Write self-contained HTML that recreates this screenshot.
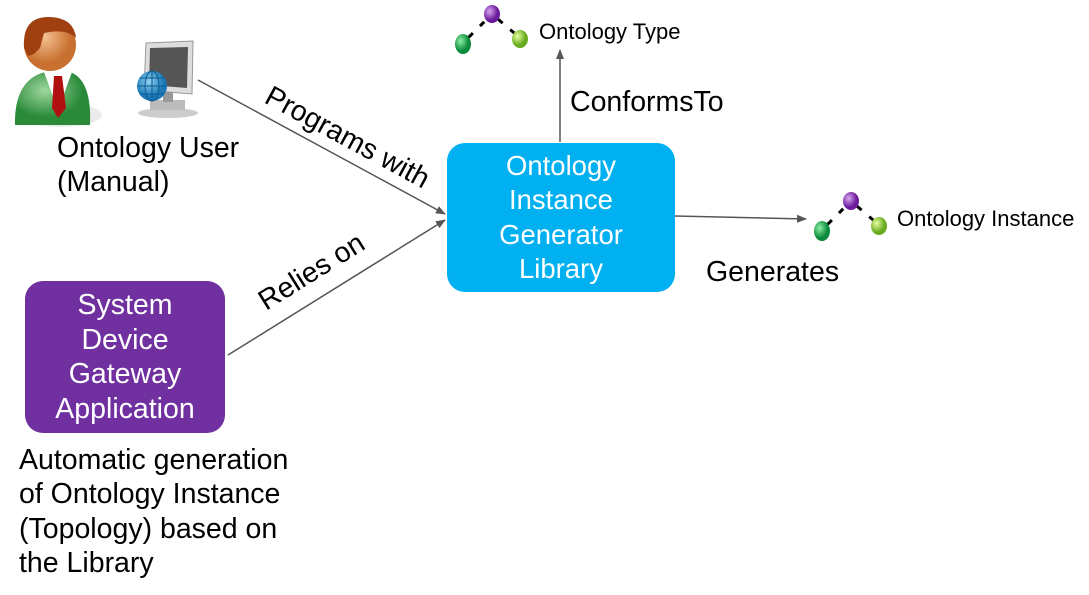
<!DOCTYPE html>
<html><head><style>
body{margin:0;background:#fff;width:1089px;height:595px;overflow:hidden;position:relative;font-family:"Liberation Sans",sans-serif;}
.t{position:absolute;color:#000;white-space:nowrap;}
.box{position:absolute;border-radius:18px;color:#fff;text-align:center;font-size:27.5px;line-height:34.5px;display:flex;align-items:center;justify-content:center;}
</style></head><body>
<svg width="1089" height="595" style="position:absolute;left:0;top:0">
<defs>
<marker id="a" markerWidth="10" markerHeight="10" refX="9" refY="5" orient="auto" markerUnits="userSpaceOnUse"><path d="M0,1 L10,5 L0,9 z" fill="#555"/></marker>
<radialGradient id="g1" cx="35%" cy="35%"><stop offset="0" stop-color="#8ef0a8"/><stop offset="1" stop-color="#0a8a3a"/></radialGradient>
<radialGradient id="g2" cx="35%" cy="35%"><stop offset="0" stop-color="#d8a8f0"/><stop offset="1" stop-color="#6a1a9a"/></radialGradient>
<radialGradient id="g3" cx="35%" cy="35%"><stop offset="0" stop-color="#e8ffa0"/><stop offset="1" stop-color="#6aaa20"/></radialGradient>
<radialGradient id="gs" cx="40%" cy="35%"><stop offset="0" stop-color="#f4c090"/><stop offset="1" stop-color="#c87030"/></radialGradient>
<radialGradient id="gb" cx="40%" cy="35%"><stop offset="0" stop-color="#9ed89e"/><stop offset="1" stop-color="#2a8a3a"/></radialGradient>
<radialGradient id="gw" cx="40%" cy="35%"><stop offset="0" stop-color="#8fd0f0"/><stop offset="1" stop-color="#1a78b8"/></radialGradient>
</defs>
<line x1="198" y1="80" x2="445" y2="214" stroke="#555" stroke-width="1.5" marker-end="url(#a)"/>
<line x1="228" y1="355" x2="445" y2="220" stroke="#555" stroke-width="1.5" marker-end="url(#a)"/>
<line x1="560" y1="142" x2="560" y2="50" stroke="#555" stroke-width="1.5" marker-end="url(#a)"/>
<line x1="675" y1="216" x2="806" y2="219" stroke="#555" stroke-width="1.5" marker-end="url(#a)"/>
<ellipse cx="60" cy="115" rx="42" ry="12" fill="#ddd" opacity=".6"/>
<path d="M15,125 Q14,80 45,72 L70,72 Q92,80 90,125 Z" fill="url(#gb)"/>
<path d="M44,72 L58,110 L72,72 Z" fill="#fff"/>
<path d="M54,76 L62,76 L66,108 L58,118 L52,108 Z" fill="#b01010"/>
<circle cx="50" cy="45" r="26" fill="url(#gs)"/>
<path d="M24,48 Q22,16 50,17 Q74,18 76,38 Q66,28 44,33 L40,48 L34,54 L28,56 Z" fill="#a04010"/>
<ellipse cx="168" cy="113" rx="30" ry="5" fill="#ccc"/>
<rect x="150" y="100" width="35" height="10" fill="#bbb"/>
<rect x="163" y="92" width="10" height="10" fill="#999"/>
<path d="M146,43 L193,41 L192,94 L144,90 Z" fill="#ddd" stroke="#999"/>
<path d="M150,48 L188,47 L187,88 L149,85 Z" fill="#555"/>
<circle cx="152" cy="86" r="15" fill="url(#gw)"/>
<path d="M137,86 H167 M152,71 V101 M140,78 H164 M140,94 H164" stroke="#0d5a90" stroke-width="1" fill="none"/>
<ellipse cx="152" cy="86" rx="7" ry="15" stroke="#0d5a90" fill="none"/>
<g>
<line x1="463" y1="43" x2="492" y2="14" stroke="#000" stroke-width="3" stroke-dasharray="6 10" stroke-dashoffset="-8"/>
<line x1="492" y1="14" x2="520" y2="38" stroke="#000" stroke-width="3" stroke-dasharray="6 10" stroke-dashoffset="-8"/>
<ellipse cx="463" cy="44" rx="8" ry="10" fill="url(#g1)"/>
<ellipse cx="492" cy="14" rx="8" ry="9" fill="url(#g2)"/>
<ellipse cx="520" cy="39" rx="8" ry="9" fill="url(#g3)"/>
</g>
<g transform="translate(359,187)">
<line x1="463" y1="43" x2="492" y2="14" stroke="#000" stroke-width="3" stroke-dasharray="6 10" stroke-dashoffset="-8"/>
<line x1="492" y1="14" x2="520" y2="38" stroke="#000" stroke-width="3" stroke-dasharray="6 10" stroke-dashoffset="-8"/>
<ellipse cx="463" cy="44" rx="8" ry="10" fill="url(#g1)"/>
<ellipse cx="492" cy="14" rx="8" ry="9" fill="url(#g2)"/>
<ellipse cx="520" cy="39" rx="8" ry="9" fill="url(#g3)"/>
</g>
<text x="0" y="0" font-size="28.5" transform="translate(263,102) rotate(28.5)" font-family="Liberation Sans">Programs with</text>
<text x="0" y="0" font-size="28.5" transform="translate(266,311) rotate(-32)" font-family="Liberation Sans">Relies on</text>
</svg>
<div class="box" style="left:447px;top:143px;width:228px;height:149px;background:#00b0f0;">Ontology<br>Instance<br>Generator<br>Library</div>
<div class="box" style="left:25px;top:281px;width:200px;height:152px;background:#7030a0;font-size:28.5px;">System<br>Device<br>Gateway<br>Application</div>
<div class="t" style="left:57px;top:131px;font-size:28.5px;line-height:34px;">Ontology User<br>(Manual)</div>
<div class="t" style="left:539px;top:19px;font-size:22px;">Ontology Type</div>
<div class="t" style="left:570px;top:86px;font-size:28.5px;">ConformsTo</div>
<div class="t" style="left:897px;top:206px;font-size:22px;">Ontology Instance</div>
<div class="t" style="left:706px;top:256px;font-size:28.5px;">Generates</div>
<div class="t" style="left:19px;top:443px;font-size:28.5px;line-height:34.3px;">Automatic generation<br>of Ontology Instance<br>(Topology) based on<br>the Library</div>
</body></html>
